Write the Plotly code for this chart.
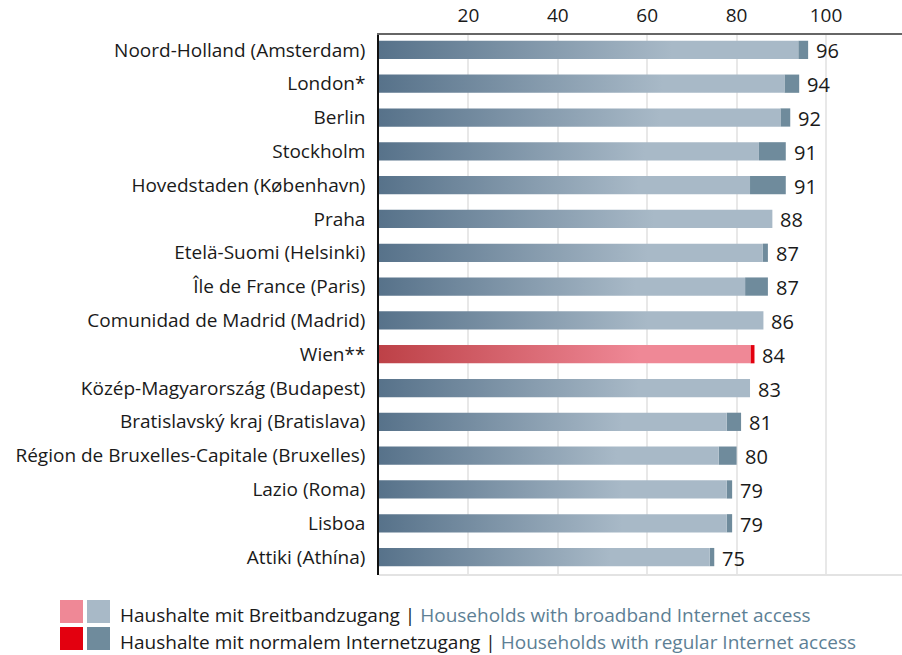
import plotly.graph_objects as go

regions = [
    "Noord-Holland (Amsterdam)", "London*", "Berlin", "Stockholm",
    "Hovedstaden (København)", "Praha", "Etelä-Suomi (Helsinki)",
    "Île de France (Paris)", "Comunidad de Madrid (Madrid)", "Wien**",
    "Közép-Magyarország (Budapest)", "Bratislavský kraj (Bratislava)",
    "Région de Bruxelles-Capitale (Bruxelles)", "Lazio (Roma)", "Lisboa",
    "Attiki (Athína)",
]
internet = [96, 94, 92, 91, 91, 88, 87, 87, 86, 84, 83, 81, 80, 79, 79, 75]
broadband = [93.8, 90.7, 89.8, 85.0, 83.0, 88.0, 85.8, 81.9, 86.0, 83.1,
             83.0, 77.8, 76.0, 77.8, 77.8, 74.0]
highlight = "Wien**"
x_ticks = [20, 40, 60, 80, 100]

BLUE_DARK, BLUE_LIGHT, BLUE_SEG = "#57728a", "#a8b9c7", "#6f8b9c"
RED_DARK, RED_LIGHT, RED_SEG = "#bd4147", "#ef8896", "#e3000f"
FONT = "Open Sans"
FS = 19
HALF = 0.27

fig = go.Figure()
for i, (name, b, t) in enumerate(zip(regions, broadband, internet)):
    hl = name == highlight
    dark, light = (RED_DARK, RED_LIGHT) if hl else (BLUE_DARK, BLUE_LIGHT)
    fig.add_trace(go.Scatter(
        x=[0, b, b, 0, 0], y=[i - HALF, i - HALF, i + HALF, i + HALF, i - HALF],
        mode="lines", fill="toself", line=dict(width=0),
        fillgradient=dict(type="horizontal",
                          colorscale=[[0, dark], [0.7, light], [1, light]]),
        hoverinfo="skip", showlegend=False,
    ))

fig.add_trace(go.Bar(
    y=list(range(len(regions))),
    x=[t - b for t, b in zip(internet, broadband)],
    base=broadband, orientation="h", width=2 * HALF,
    marker=dict(color=[RED_SEG if r == highlight else BLUE_SEG for r in regions],
                line=dict(width=0)),
    showlegend=False, hoverinfo="skip",
))

for i, t in enumerate(internet):
    fig.add_annotation(x=t, y=i, text=str(t), showarrow=False,
                       xanchor="left", yanchor="middle", xshift=6, yshift=-1,
                       font=dict(family=FONT, size=20, color="#1a1a1a"))

fig.update_layout(
    width=902, height=655,
    margin=dict(l=379, r=0, t=35, b=80, autoexpand=False),
    plot_bgcolor="white", paper_bgcolor="white",
    font=dict(family=FONT, size=FS, color="#1a1a1a"),
    barmode="overlay",
    xaxis=dict(side="top", range=[0, 117], tickvals=x_ticks,
               ticktext=[str(v) for v in x_ticks],
               showgrid=True, gridcolor="#e8e8e8", gridwidth=2,
               showline=True, linecolor="#666666", linewidth=1.5,
               zeroline=False, ticks="outside", ticklen=4,
               tickcolor="rgba(0,0,0,0)", tickfont=dict(size=FS)),
    yaxis=dict(range=[15.53, -0.44], tickvals=list(range(len(regions))),
               ticktext=regions, showgrid=False, zeroline=False,
               showline=True, linecolor="#111111", linewidth=1.5,
               ticks="outside", ticklen=8, tickcolor="rgba(0,0,0,0)",
               tickfont=dict(size=FS)),
)

# bottom light line
fig.add_shape(type="line", xref="paper", yref="paper", x0=0, x1=1, y0=0, y1=0,
              line=dict(color="#e3e3e3", width=2))

# legend
W, H = 902, 655
def px(x, y):
    return (x - 379) / (W - 379), (H - 80 - y) / (H - 35 - 80)

legend_rows = [
    (RED_LIGHT, BLUE_LIGHT, "Haushalte mit Breitbandzugang", "Households with broadband Internet access", 600),
    (RED_SEG, BLUE_SEG, "Haushalte mit normalem Internetzugang", "Households with regular Internet access", 627),
]
for c1, c2, de, en, top in legend_rows:
    for c, x0 in ((c1, 60), (c2, 87)):
        ax0, ay0 = px(x0, top)
        ax1, ay1 = px(x0 + 23, top + 23)
        fig.add_shape(type="rect", xref="paper", yref="paper",
                      x0=ax0, x1=ax1, y0=ay1, y1=ay0,
                      fillcolor=c, line=dict(width=0))
    tx, ty = px(119, top + 15)
    fig.add_annotation(xref="paper", yref="paper", x=tx, y=ty,
                       xanchor="left", yanchor="middle", showarrow=False,
                       borderpad=0,
                       text=f"{de} | <span style='color:#5d7f95'>{en}</span>",
                       font=dict(family=FONT, size=FS, color="#1a1a1a"))

fig.write_html("out.html", config={"displayModeBar": False},
               post_script="document.body.style.margin='0';document.body.style.padding='0';document.body.style.overflow='hidden';")
